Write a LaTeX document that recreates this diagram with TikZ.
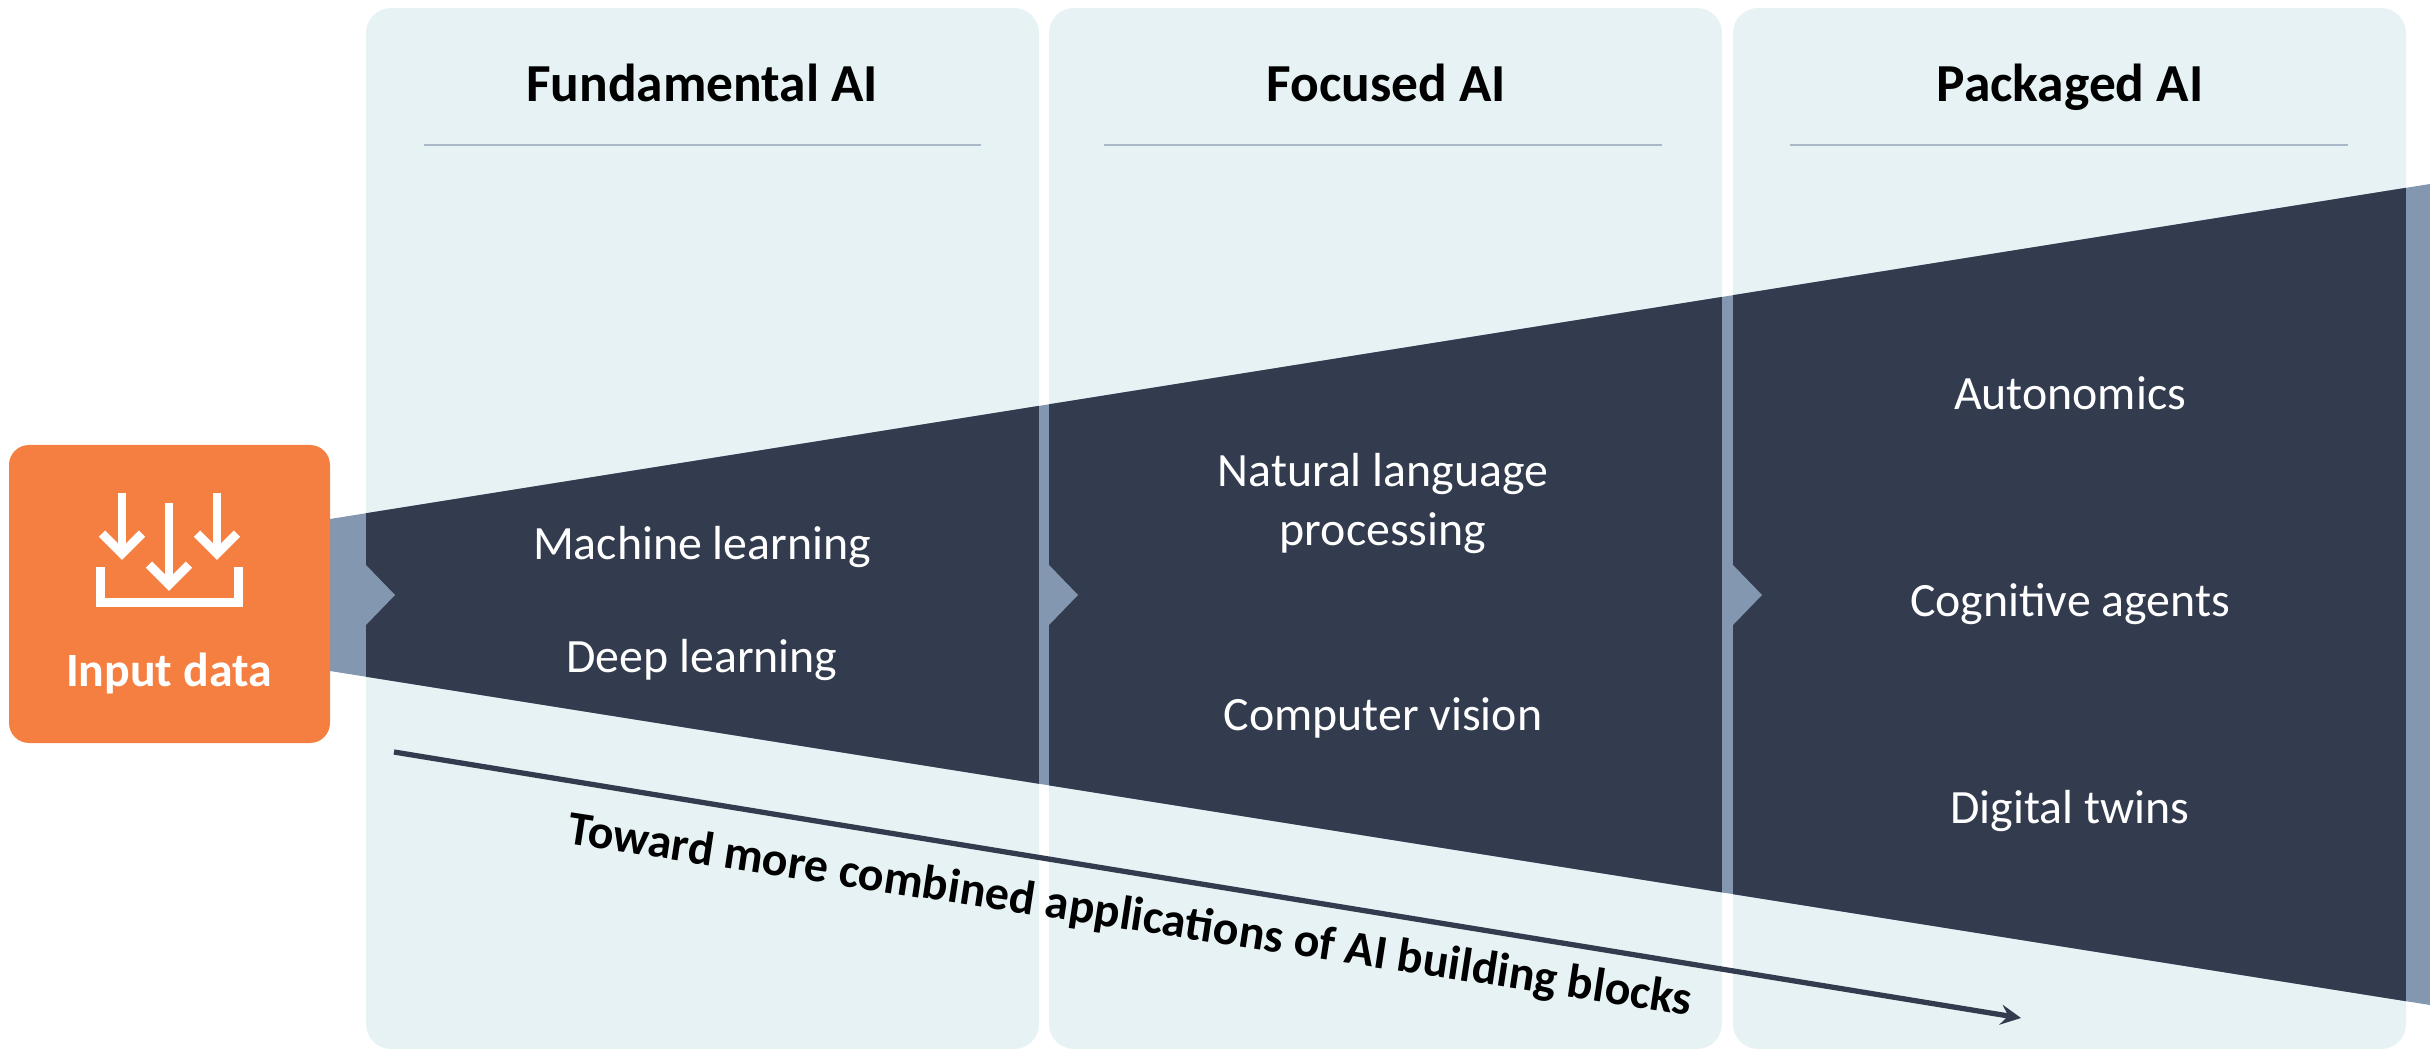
\documentclass[tikz,border=0pt]{standalone}
\usepackage{fontspec}
\setmainfont{Carlito}
\usetikzlibrary{arrows}
\definecolor{panelc}{HTML}{E6F2F4}
\definecolor{darkc}{HTML}{333B4E}
\definecolor{lightc}{HTML}{8497B0}
\definecolor{orangec}{HTML}{F57F40}
\definecolor{rulec}{HTML}{A9B8C6}
\tikzset{
	panel/.style={fill=panelc, rounded corners=0.25cm},
	headrule/.style={rulec, line width=0.5pt},
	headtext/.style={font=\bfseries\fontsize{15.2}{18}\selectfont, black, text height=1.5ex, text depth=.25ex},
	itemtext/.style={font=\fontsize{13.6}{16}\selectfont, white, text height=1.5ex, text depth=.25ex},
	icon/.style={white, line width=2.55pt}
}
\begin{document}
\begin{tikzpicture}[x=0.01cm,y=-0.01cm]
				\useasboundingbox (0,0) rectangle (2430,1049);
				\coordinate (wt1) at (330,519);
				\coordinate (wt2) at (2430,184);
				\coordinate (wb1) at (330,671);
				\coordinate (wb2) at (2430,1005);
				\coordinate (as) at (394,752);
				\coordinate (ae) at (2021,1018);
				\fill[panel] (366,8) rectangle (1039,1049);
				\fill[panel] (1049,8) rectangle (1722,1049);
				\fill[panel] (1733,8) rectangle (2406,1049);
				\draw[headrule] (424,145)--(981,145);
				\draw[headrule] (1104,145)--(1662,145);
				\draw[headrule] (1790,145)--(2348,145);
				\begin{scope}
					\clip (wt1)--(wt2)--(wb2)--(wb1)--cycle;
					\fill[lightc] (330,0) rectangle (2430,1049);
					\fill[darkc] (366,0) rectangle (1039,1049);
					\fill[darkc] (1049,0) rectangle (1722,1049);
					\fill[darkc] (1733,0) rectangle (2406,1049);
				\end{scope}
				\foreach \xs in {366,1049,1733}
					\fill[lightc] (\xs,565)--(\xs+29,595)--(\xs,625)--cycle;
				\fill[orangec, rounded corners=0.2cm] (9,445) rectangle (330,743);
				\draw[icon] (100.5,567)--(100.5,602.5)--(238.5,602.5)--(238.5,567);
				\foreach \xa/\ya/\yb in {122/493/553.6,169/503/584.6,217/493/553.6}{
					\draw[icon] (\xa,\ya)--(\xa,\yb);
					\draw[icon] (\xa-20,\yb-20)--(\xa,\yb)--(\xa+20,\yb-20);
				}
				\draw[-stealth, line width=1.5pt, darkc] (as)--(ae);
				\node[font=\bfseries\fontsize{13.6}{16}\selectfont, white] (input) at (169,673) {Input data};
				\node[headtext] (fund) at (702,91) {Fundamental AI};
				\node[headtext] (focus) at (1386,91) {Focused AI};
				\node[headtext] (pack) at (2070,91) {Packaged AI};
				\node[itemtext] (ml) at (702,549) {Machine learning};
				\node[itemtext] (dl) at (702,662) {Deep learning};
				\node[itemtext] (nlpa) at (1383,476) {Natural language};
				\node[itemtext] (nlpb) at (1383,535) {processing};
				\node[itemtext] (cv) at (1383,720) {Computer vision};
				\node[itemtext] (auto) at (2070,399) {Autonomics};
				\node[itemtext] (cog) at (2070,606) {Cognitive agents};
				\node[itemtext] (twin) at (2070,813) {Digital twins};
				\node[font=\bfseries\fontsize{13.65}{16}\selectfont, black, rotate=-8.7] (toward) at (1130,917) {Toward more combined applications of AI building blocks};
			\end{tikzpicture}
\end{document}
